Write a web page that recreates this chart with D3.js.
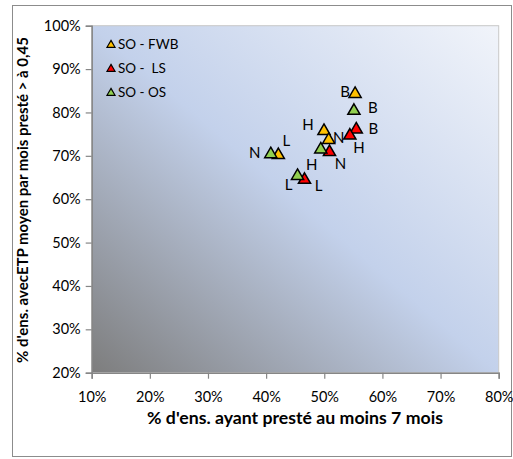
<!DOCTYPE html>
<html><head><meta charset="utf-8">
<script src="https://cdn.jsdelivr.net/npm/d3@7"></script>
<style>body{margin:0;background:#fff;} text{font-family:Lato,"Open Sans",sans-serif;}</style>
</head><body>
<svg id="c" width="513" height="459"></svg>
<script>
const xTicks = [0.1,0.2,0.3,0.4,0.5,0.6,0.7,0.8];
const yTicks = [0.2,0.3,0.4,0.5,0.6,0.7,0.8,0.9,1.0];
const seriesNames = ["SO - FWB","SO -  LS","SO - OS"];
const seriesColors = ["#FFC000","#FF0000","#92D050"];
const pointLabels = ["B","H","N","L"];
const fwbX = [0.553,0.4995,0.5076,0.421];
const fwbY = [0.845,0.7595,0.739,0.704];
const lsX = [0.555,0.544,0.509,0.466];
const lsY = [0.763,0.749,0.711,0.647];
const osX = [0.551,0.494,0.408,0.454];
const osY = [0.806,0.717,0.706,0.656];
// label offsets per series (B,H,N,L)
const fwbOff = [[-10,-1],[-16,-6],[10,-1],[8,-14]];
const lsOff = [[17,0],[9,13],[11,12],[14,7]];
const osOff = [[19,-2],[-9,16],[-16,-1],[-9,10]];

const svg = d3.select("#c");
const L = 91.7, R = 498.7, T = 25.7, B = 372.7;
const x = d3.scaleLinear().domain([0.1,0.8]).range([L,R]);
const y = d3.scaleLinear().domain([0.2,1.0]).range([B,T]);

function fit(sel, target){
  const w = sel.node().getComputedTextLength();
  const fs = parseFloat(sel.attr("font-size"));
  sel.attr("font-size", (fs*target/w).toFixed(2));
}

svg.append("rect").attr("x",12.5).attr("y",5.5).attr("width",499).attr("height",451)
  .attr("fill","#fff").attr("stroke","#8c8c8c").attr("stroke-width",1);

const defs = svg.append("defs");
const g = defs.append("linearGradient").attr("id","bg").attr("x1",0).attr("y1",1).attr("x2",1).attr("y2",0);
g.append("stop").attr("offset","0%").attr("stop-color","#7d7d7d");
g.append("stop").attr("offset","50%").attr("stop-color","#c3d1eb");
g.append("stop").attr("offset","100%").attr("stop-color","#f1f4fa");

svg.append("rect").attr("x",L).attr("y",T).attr("width",R-L).attr("height",B-T)
  .attr("fill","url(#bg)").attr("stroke","#c8c8c8").attr("stroke-width",1);

const fmt = d3.format(".0%");
const xAxis = svg.append("g").attr("transform",`translate(0,${B})`)
  .call(d3.axisBottom(x).tickValues(xTicks).tickFormat(fmt).tickSize(6).tickPadding(13));
const yAxis = svg.append("g").attr("transform",`translate(${L},0)`)
  .call(d3.axisLeft(y).tickValues(yTicks).tickFormat(fmt).tickSize(6).tickPadding(5));
[xAxis,yAxis].forEach(a=>{
  a.attr("font-size",null).attr("font-family",null);
  a.select(".domain").attr("stroke","#868686").attr("stroke-width",1.5);
  a.selectAll(".tick line").attr("stroke","#868686").attr("stroke-width",1.2);
  a.selectAll(".tick text").attr("fill","#000").style("font-size","14.5px");
});

// axis titles
const xt = svg.append("text").attr("x",295).attr("y",424).attr("text-anchor","middle")
  .attr("font-weight","bold").attr("font-size",14).text("% d'ens. ayant presté au moins 7 mois");
fit(xt, 296);
const yt = svg.append("text").attr("transform","translate(28,200) rotate(-90)").attr("text-anchor","middle")
  .attr("font-weight","bold").attr("font-size",12).text("% d'ens. avecETP moyen par mois presté  > à 0,45");
fit(yt, 326);

// points
const tri = d3.symbol().type(d3.symbolTriangle).size(64);
const series = [[fwbX,fwbY,fwbOff],[lsX,lsY,lsOff],[osX,osY,osOff]];
series.forEach(([xs,ys,off],si)=>{
  const gg = svg.append("g");
  xs.forEach((xv,i)=>{
    gg.append("path").attr("d",tri).attr("transform",`translate(${x(xv)},${y(ys[i])+1})`)
      .attr("fill",seriesColors[si]).attr("stroke","#000").attr("stroke-width",1.5);
  });
});
series.forEach(([xs,ys,off],si)=>{
  xs.forEach((xv,i)=>{
    svg.append("text").attr("x",x(xv)+off[i][0]).attr("y",y(ys[i])+off[i][1]+5.5)
      .attr("text-anchor","middle").attr("font-size",15).attr("fill","#000").text(pointLabels[i]);
  });
});

// legend
const legY = [44,68,92];
seriesNames.forEach((n,i)=>{
  svg.append("path").attr("d",d3.symbol().type(d3.symbolTriangle).size(28))
    .attr("transform",`translate(111,${legY[i]+1})`).attr("fill",seriesColors[i])
    .attr("stroke","#000").attr("stroke-width",1.2);
  svg.append("text").attr("x",118).attr("y",legY[i]+5).attr("font-size",13.5).attr("fill","#000")
    .attr("xml:space","preserve").style("white-space","pre").text(n);
});
</script>
</body></html>
